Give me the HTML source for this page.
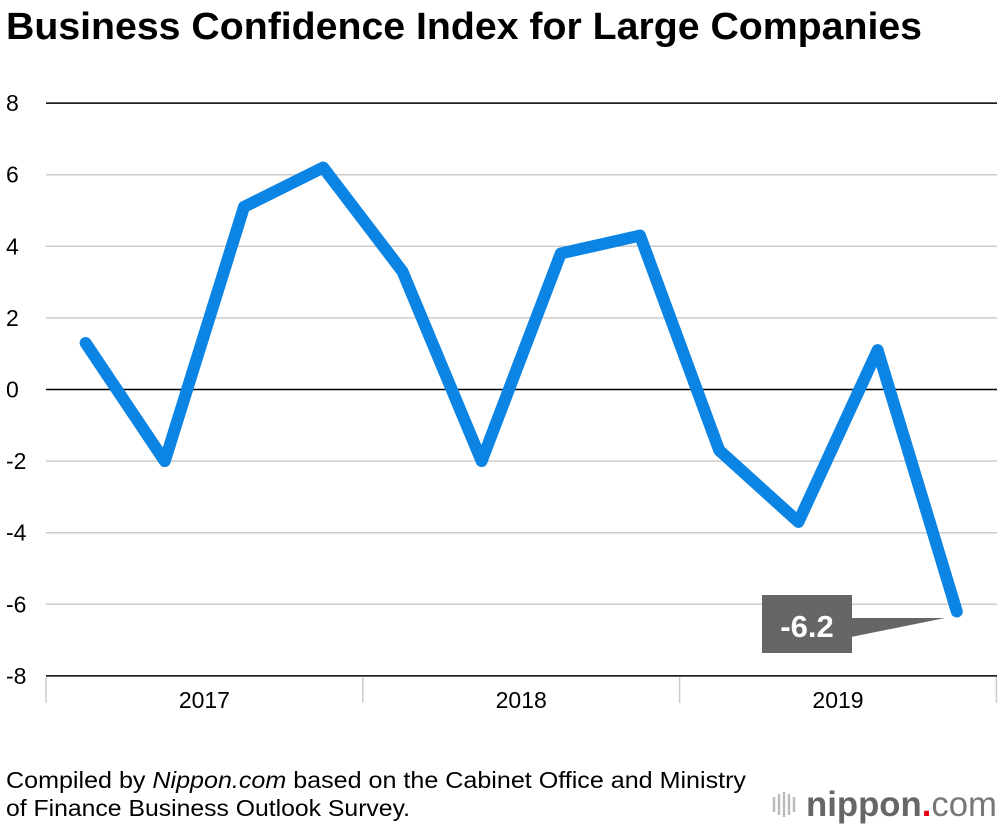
<!DOCTYPE html>
<html><head><meta charset="utf-8"><style>
body{margin:0;background:#fff;font-family:"Liberation Sans",sans-serif;}
svg{display:block}
</style></head><body>
<svg width="1000" height="826">
<text x="6" y="39" font-size="38" font-weight="bold" fill="#000" textLength="916" lengthAdjust="spacingAndGlyphs">Business Confidence Index for Large Companies</text>
<g id="grid"></g><g id="series"></g>
<g>
<rect x="762" y="595" width="90" height="58" fill="#666"/>
<polygon points="851,618 945,618 851,637" fill="#666"/>
<text x="807" y="637" font-size="31" font-weight="bold" fill="#fff" text-anchor="middle">-6.2</text>
</g>
<text x="6" y="788" font-size="23" fill="#000" textLength="740" lengthAdjust="spacingAndGlyphs">Compiled by <tspan font-style="italic">Nippon.com</tspan> based on the Cabinet Office and Ministry</text>
<text x="6" y="816" font-size="23" fill="#000" textLength="404" lengthAdjust="spacingAndGlyphs">of Finance Business Outlook Survey.</text>
<g>
<g stroke="#bbb" stroke-width="2.5"><line x1="774" y1="797" x2="774" y2="812"/><line x1="779" y1="794" x2="779" y2="815"/><line x1="784" y1="792" x2="784" y2="817"/><line x1="789" y1="794" x2="789" y2="815"/><line x1="794" y1="797" x2="794" y2="812"/></g>
<text x="806" y="816" font-size="35" font-weight="bold" fill="#666" textLength="191" lengthAdjust="spacingAndGlyphs">nippon<tspan fill="#e60012">.</tspan><tspan font-weight="normal" fill="#777">com</tspan></text>
</g>
</svg>
<script>
const yTicks=[8,6,4,2,0,-2,-4,-6,-8];
const years=["2017","2018","2019"];
const values=[1.3,-2.0,5.1,6.2,3.3,-2.0,3.8,4.3,-1.7,-3.7,1.1,-6.2];
const NS="http://www.w3.org/2000/svg";
const y=v=>389.5-(v*35.8);
const x=i=>46+79.2*(i+0.5);
const grid=document.getElementById('grid'),ser=document.getElementById('series');
function mk(tag,a,p){const e=document.createElementNS(NS,tag);for(const k in a)e.setAttribute(k,a[k]);p.appendChild(e);return e;}
yTicks.forEach(t=>{
  const dark=(t===0||t===8||t===-8);
  const ln=mk('line',{x1:46,x2:997,y1:y(t),y2:y(t),stroke:dark?'#000':'#ccc','stroke-width':1.5},grid);
  
  
  const tx=mk('text',{x:6,y:y(t)+8,'font-size':23,fill:'#000'},grid);tx.textContent=t;
  
  
});
for(let i=0;i<=years.length;i++){
  const xx=46+i*316.8;
  const tk=mk('line',{x1:xx,x2:xx,y1:677,y2:703,stroke:'#ccc','stroke-width':1.5},grid);
  
  
}
years.forEach((yr,i)=>{
  const tx=mk('text',{x:46+316.8*(i+0.5),y:708,'font-size':23,fill:'#000','text-anchor':'middle'},grid);tx.textContent=yr;
  
  
});
const pl=mk('polyline',{points:values.map((v,i)=>x(i)+','+y(v)).join(' '),fill:'none',stroke:'#0b84e3','stroke-width':12,'stroke-linejoin':'round','stroke-linecap':'round'},ser);


</script>
</body></html>
